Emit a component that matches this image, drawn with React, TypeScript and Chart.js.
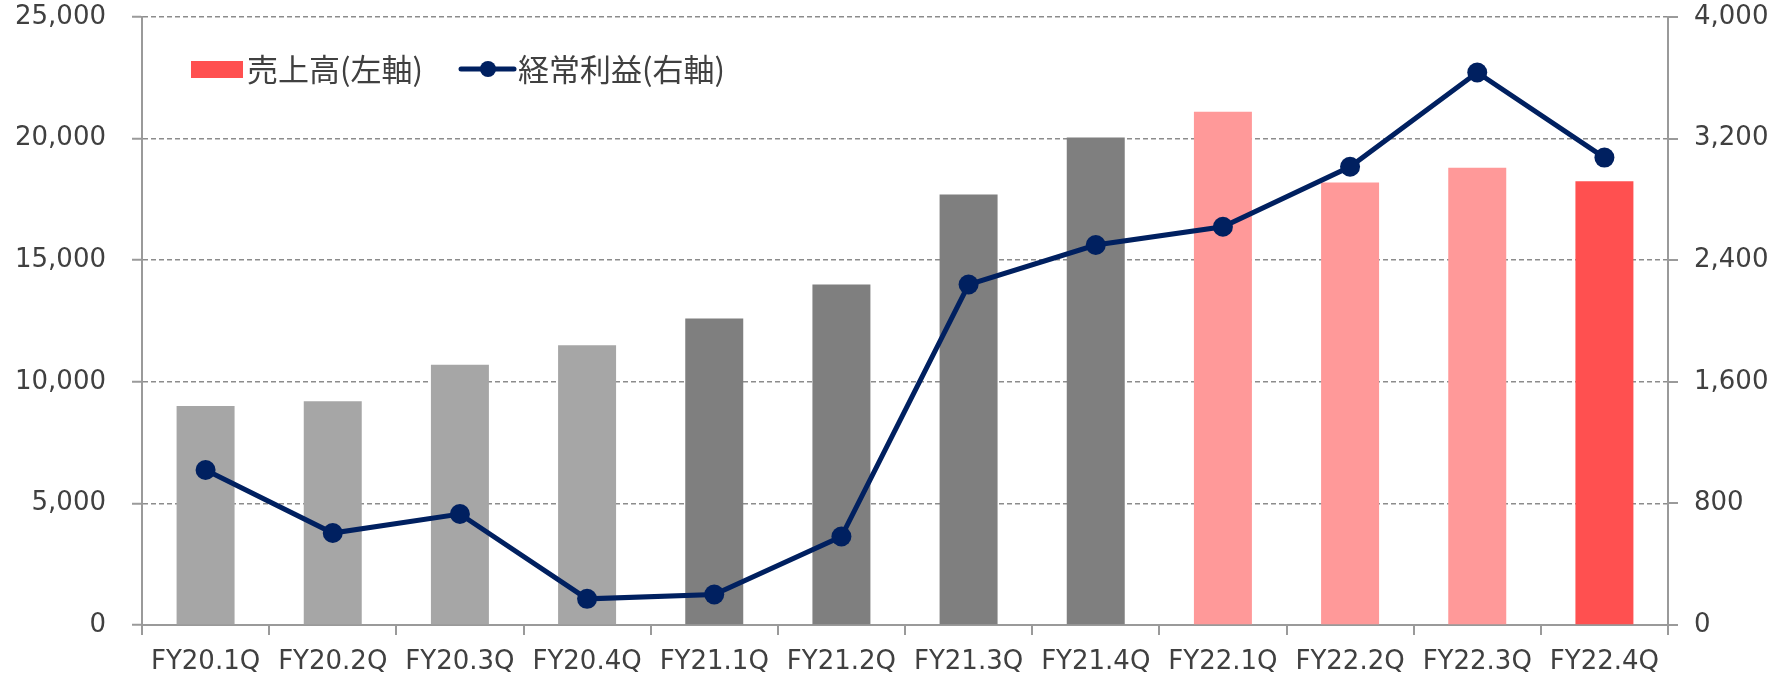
import React, { useEffect, useRef } from "react";
import { Chart, registerables } from "chart.js";

Chart.register(...registerables);

const categories = [
  "FY20.1Q", "FY20.2Q", "FY20.3Q", "FY20.4Q",
  "FY21.1Q", "FY21.2Q", "FY21.3Q", "FY21.4Q",
  "FY22.1Q", "FY22.2Q", "FY22.3Q", "FY22.4Q",
];

const salesName = "売上高(左軸)";
const profitName = "経常利益(右軸)";

const sales = [9000, 9200, 10700, 11500, 12600, 14000, 17700, 20050, 21100, 18200, 18800, 18250];
const ordinaryProfit = [1020, 605, 730, 172, 201, 582, 2240, 2500, 2620, 3015, 3635, 3075];

const barColors = [
  "#A6A6A6", "#A6A6A6", "#A6A6A6", "#A6A6A6",
  "#7F7F7F", "#7F7F7F", "#7F7F7F", "#7F7F7F",
  "#FF9999", "#FF9999", "#FF9999", "#FF5050",
];

const leftTicks = { min: 0, max: 25000, step: 5000 };
const rightTicks = { min: 0, max: 4000, step: 800 };

const LINE_COLOR = "#002060";
const LEGEND_BAR_COLOR = "#FF5050";
const TEXT_COLOR = "#404040";
const AXIS_COLOR = "#9A9A9A";
const GRID_COLOR = "#8C8C8C";

const W = 1779;
const H = 680;

const fmt = (v: number) => Number(v).toLocaleString("en-US");

const legendPlugin = {
  id: "customLegend",
  afterDraw(chart: any) {
    const { ctx, chartArea } = chart;
    const x0 = chartArea.left + 49;
    const yMid = chartArea.top + 52;
    ctx.save();
    ctx.fillStyle = LEGEND_BAR_COLOR;
    ctx.fillRect(x0, yMid - 8, 52, 17);
    ctx.font = '31px "Noto Sans CJK JP"';
    ctx.fillStyle = TEXT_COLOR;
    ctx.textBaseline = "middle";
    ctx.textAlign = "left";
    ctx.fillText(salesName, x0 + 56, yMid);

    const lx = x0 + 270;
    ctx.strokeStyle = LINE_COLOR;
    ctx.lineWidth = 5;
    ctx.lineCap = "round";
    ctx.beginPath();
    ctx.moveTo(lx, yMid);
    ctx.lineTo(lx + 53, yMid);
    ctx.stroke();
    ctx.fillStyle = LINE_COLOR;
    ctx.beginPath();
    ctx.arc(lx + 27, yMid, 8, 0, Math.PI * 2);
    ctx.fill();
    ctx.fillStyle = TEXT_COLOR;
    ctx.fillText(profitName, lx + 57, yMid);
    ctx.restore();
  },
};

export default function App() {
  const ref = useRef<HTMLCanvasElement | null>(null);

  useEffect(() => {
    document.body.style.margin = "0";
    const canvas = ref.current;
    if (!canvas) return;
    const tickFont = { family: '"DejaVu Sans", Verdana, sans-serif', size: 26 };
    const chart = new Chart(canvas, {
      type: "bar",
      data: {
        labels: categories,
        datasets: [
          {
            type: "line",
            label: profitName,
            data: ordinaryProfit,
            yAxisID: "yR",
            borderColor: LINE_COLOR,
            backgroundColor: LINE_COLOR,
            borderWidth: 5,
            pointRadius: 10,
            pointBackgroundColor: LINE_COLOR,
            pointBorderWidth: 0,
            tension: 0,
            order: 0,
          } as any,
          {
            type: "bar",
            label: salesName,
            data: sales,
            yAxisID: "yL",
            backgroundColor: barColors,
            barPercentage: 0.456,
            categoryPercentage: 1,
            order: 1,
          },
        ],
      },
      options: {
        animation: false,
        responsive: false,
        layout: { padding: { top: 17, left: 0, right: 0, bottom: 0 } },
        plugins: { legend: { display: false }, tooltip: { enabled: false } },
        scales: {
          x: {
            grid: {
              display: true,
              offset: true,
              drawOnChartArea: false,
              drawTicks: true,
              tickLength: 10,
              color: AXIS_COLOR,
              lineWidth: 2,
            },
            border: { display: true, color: AXIS_COLOR, width: 2 },
            ticks: { color: TEXT_COLOR, font: tickFont, padding: 12, maxRotation: 0, autoSkip: false },
            afterFit: (s: any) => { s.height = 55; s.paddingLeft = 0; s.paddingRight = 0; },
          },
          yL: {
            position: "left",
            min: leftTicks.min,
            max: leftTicks.max,
            grid: {
              color: GRID_COLOR,
              lineWidth: 1.5,
              drawTicks: true,
              tickLength: 10,
              tickColor: AXIS_COLOR,
              tickWidth: 2,
            },
            border: { display: true, color: AXIS_COLOR, width: 2, dash: [5, 3] },
            ticks: {
              stepSize: leftTicks.step,
              color: TEXT_COLOR,
              font: tickFont,
              padding: 26,
              callback: (v: any) => fmt(v),
            },
            afterFit: (s: any) => { s.width = 142; s.paddingTop = 0; s.paddingBottom = 0; },
          },
          yR: {
            position: "right",
            min: rightTicks.min,
            max: rightTicks.max,
            grid: {
              drawOnChartArea: false,
              drawTicks: true,
              tickLength: 10,
              color: AXIS_COLOR,
              lineWidth: 2,
            },
            border: { display: true, color: AXIS_COLOR, width: 2 },
            ticks: {
              stepSize: rightTicks.step,
              color: TEXT_COLOR,
              font: tickFont,
              padding: 16,
              callback: (v: any) => fmt(v),
            },
            afterFit: (s: any) => { s.width = W - 1668; s.paddingTop = 0; s.paddingBottom = 0; },
          },
        },
      },
      plugins: [legendPlugin],
    });
    return () => chart.destroy();
  }, []);

  return (
    <div style={{ width: W, height: H, position: "absolute", left: 0, top: 0, background: "#fff" }}>
      <canvas ref={ref} width={W} height={H} style={{ width: W, height: H, display: "block" }} />
    </div>
  );
}
